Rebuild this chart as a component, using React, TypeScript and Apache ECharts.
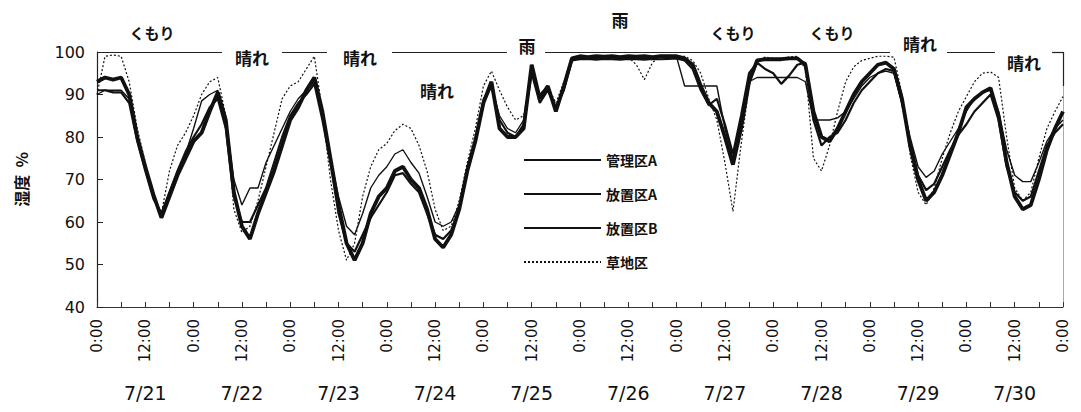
import { useEffect, useRef } from "react";
import * as echarts from "echarts";

// Relative humidity (%) every 2 hours, 7/21 0:00 through 7/31 0:00
const STEP_HOURS = 2;

const dayLabels = ["7/21", "7/22", "7/23", "7/24", "7/25", "7/26", "7/27", "7/28", "7/29", "7/30"];

const kanriA = [
  90, 91, 91, 91, 89, 80, 73, 66, 62, 67, 72, 76,
  82, 88.5, 90, 91, 84, 70, 64, 68, 68, 74, 78, 82,
  86, 89, 91, 93, 85, 75, 66, 59, 57, 62, 68, 71,
  73, 76, 77, 74, 71.5, 66, 60, 59, 60, 64, 73, 80,
  89, 92, 85, 82, 81, 84, 96, 90, 92, 87, 92, 98,
  98.5, 98.6, 98.5, 98.7, 98.6, 98.5, 98.6, 98.4, 98.5, 98.6, 98.7, 98.8,
  98.8, 92, 92, 92, 92, 92, 82, 75, 84, 93, 94, 94,
  94, 94, 94, 94, 93, 84, 84, 84, 84.5, 86, 89, 92,
  94, 95, 95.5, 95, 88, 80, 73, 70.5, 72, 76, 79, 82,
  86, 89, 90.5, 91, 86, 77, 71, 69.5, 69.5, 74, 79, 82,
  84,
];

const houchiA = [
  93, 94, 93.5, 94, 90, 80, 73, 66.5, 61, 66, 71, 75,
  79, 81, 86, 90.5, 84, 67, 59, 56, 62, 67, 72, 78,
  84, 87, 91, 94, 86, 75, 64, 55, 51, 55, 62, 66,
  68, 72, 73, 70, 68, 63, 56, 54, 57, 63, 72, 79,
  88, 93, 82, 80, 80, 82, 97, 89, 92, 86, 92, 98.5,
  99, 98.8, 99, 98.9, 99, 98.8, 99, 98.9, 99, 98.8, 99, 99,
  99, 98.5, 97, 92, 88, 86, 80, 73.5, 82, 93, 98, 98.3,
  98.3, 98.3, 98.5, 98.5, 97, 86, 80, 79, 82, 86, 90, 93,
  95, 97, 97.5, 96, 89, 78, 70, 65, 67, 71, 76, 81,
  87, 89, 90.5, 91.5, 85, 74, 66, 63, 64, 70, 77, 82,
  86,
];

const houchiB = [
  91, 91, 90.5, 90.5, 88, 79, 72, 65.5, 62, 67, 72, 76.5,
  80, 83, 87, 89, 82, 66, 60, 60, 64, 68, 74, 80,
  85, 88, 90, 92.5, 84, 74, 62, 55, 53, 57, 61, 64,
  67, 71, 71.5, 69, 67, 62, 57, 56, 58, 63, 72, 79,
  88, 92, 84, 81, 80, 83, 95, 88, 91, 87, 91, 98,
  98.3, 98.4, 98.2, 98.4, 98.3, 98.2, 98.4, 98.3, 98.2, 98.4, 98.3, 98.4,
  98.5, 98, 96, 91, 87.5, 89, 83, 76, 85, 95, 97.5, 96,
  95, 92.5, 94.5, 97, 97.5, 84, 78, 80, 81, 84, 88, 91,
  93, 95, 96, 95.5, 88, 79, 71, 67.5, 69, 73, 77, 80.5,
  83, 86, 88, 90, 84, 73, 67, 65, 66, 72, 78, 81,
  83,
];

const souchi = [
  90, 99, 99.3, 99, 93, 82, 74, 66, 62, 72, 78, 81,
  85, 90, 93, 94, 85, 63, 57.5, 59, 65, 73, 81, 89,
  92, 93, 96, 99, 86, 70, 58, 51, 55, 66, 73, 77,
  78.5, 81.5, 83, 82, 78, 72, 63, 58, 59, 65, 74, 82,
  92, 95.5, 91, 87, 84, 85, 96, 90, 92, 88, 93, 98.5,
  99, 99, 98.8, 99, 98.9, 99, 98.8, 97, 93.5, 97.5, 99, 99,
  99, 99, 98, 95, 89, 84, 74, 62.5, 78, 92, 98, 98.8,
  98.5, 98.5, 98.8, 99, 96, 75, 72, 78, 86, 93, 96.5, 98,
  98.5, 99, 99, 98.8, 90, 76, 67, 64, 68, 75, 81, 86,
  89.5, 93, 95, 95.3, 94, 80, 68, 65, 67, 75, 82, 86,
  89.5,
];

const seriesNames = ["管理区A", "放置区A", "放置区B", "草地区"];

const hours = kanriA.map((_, i) => i * STEP_HOURS);
const toPoints = (vals: number[]) => vals.map((v, i) => [hours[i], v]);

// Weather notes written along the top of the plot
const weatherNotes = [
  { text: "くもり", x: 152, y: 32, size: 15 },
  { text: "晴れ", x: 252, y: 57, size: 17 },
  { text: "晴れ", x: 360, y: 57, size: 17 },
  { text: "晴れ", x: 437, y: 90, size: 17 },
  { text: "雨", x: 527, y: 45, size: 17 },
  { text: "雨", x: 620, y: 19, size: 17 },
  { text: "くもり", x: 733, y: 32, size: 15 },
  { text: "くもり", x: 832, y: 32, size: 15 },
  { text: "晴れ", x: 920, y: 43, size: 17 },
  { text: "晴れ", x: 1024, y: 62, size: 17 },
];

// Pieces of the top frame line, broken where the notes sit
const topFrame = [
  [97, 222],
  [282, 327],
  [392, 507],
  [545, 890],
  [947, 995],
  [1052, 1063],
];

const JP = '"Noto Sans CJK JP", "Noto Sans", sans-serif';
const NUM = '"DejaVu Sans", sans-serif';
const INK = "#111";

export default function App() {
  const ref = useRef<HTMLDivElement>(null);

  useEffect(() => {
    if (!ref.current) return;
    const chart = echarts.init(ref.current, undefined, { renderer: "svg" });

    const graphics: any[] = [];
    topFrame.forEach(([a, b]) =>
      graphics.push({
        type: "line",
        shape: { x1: a, y1: 52.5, x2: b, y2: 52.5 },
        style: { stroke: "#222", lineWidth: 1.2 },
        silent: true,
      })
    );
    graphics.push({
      type: "line",
      shape: { x1: 1063.5, y1: 52, x2: 1063.5, y2: 307 },
      style: { stroke: "#aaa", lineWidth: 1 },
      silent: true,
    });
    graphics.push({
      type: "line",
      shape: { x1: 1063.5, y1: 52, x2: 1063.5, y2: 86 },
      style: { stroke: "#222", lineWidth: 1.2 },
      silent: true,
    });
    weatherNotes.forEach((n) =>
      graphics.push({
        type: "text",
        x: n.x,
        y: n.y,
        silent: true,
        style: {
          text: n.text,
          fill: INK,
          fontFamily: JP,
          fontWeight: "bold",
          fontSize: n.size,
          align: "center",
          verticalAlign: "middle",
        },
      })
    );

    const lineDefs = [
      { name: "草地区", data: souchi, width: 1.2, type: [2, 2] as any },
      { name: "放置区A", data: houchiA, width: 3.8, type: "solid" },
      { name: "放置区B", data: houchiB, width: 2.2, type: "solid" },
      { name: "管理区A", data: kanriA, width: 1.4, type: "solid" },
    ];

    chart.setOption({
      animation: false,
      backgroundColor: "#fff",
      grid: { left: 97, right: 18, top: 52, bottom: 105, containLabel: false },
      legend: {
        data: seriesNames,
        orient: "vertical",
        left: 518,
        top: 148,
        itemWidth: 77,
        itemHeight: 14,
        itemGap: 20,
        selectedMode: false,
        itemStyle: { opacity: 0 },
        textStyle: { color: INK, fontFamily: JP, fontWeight: "bold", fontSize: 14 },
      },
      xAxis: [
        {
          type: "value",
          min: 0,
          max: 240,
          interval: 12,
          axisLine: { show: true, lineStyle: { color: "#333", width: 1 } },
          axisTick: { show: true, inside: true, length: 5, lineStyle: { color: "#333" } },
          minorTick: { show: true, splitNumber: 2, length: 5, lineStyle: { color: "#333" } },
          splitLine: { show: false },
          axisLabel: {
            rotate: 90,
            margin: 12,
            color: INK,
            fontFamily: NUM,
            fontSize: 15,
            formatter: (v: number) => (v % 24 === 0 ? "0:00" : "12:00"),
          },
        },
        {
          type: "category",
          data: dayLabels,
          position: "bottom",
          offset: 76,
          boundaryGap: true,
          axisLine: { show: false },
          axisTick: { show: false },
          axisLabel: { margin: 0, color: INK, fontFamily: NUM, fontSize: 19 },
        },
      ],
      yAxis: {
        type: "value",
        min: 40,
        max: 100,
        interval: 10,
        name: "湿度  %",
        nameLocation: "middle",
        nameRotate: 90,
        nameGap: 68,
        nameTextStyle: { color: INK, fontFamily: JP, fontWeight: "bold", fontSize: 16 },
        axisLine: { show: true, lineStyle: { color: "#222", width: 1.2 } },
        axisTick: { show: true, inside: true, length: 6, lineStyle: { color: "#222" } },
        splitLine: { show: false },
        axisLabel: { margin: 12, color: INK, fontFamily: NUM, fontSize: 16 },
      },
      series: lineDefs.map((d) => ({
        name: d.name,
        type: "line",
        xAxisIndex: 0,
        data: toPoints(d.data),
        symbol: "none",
        showSymbol: false,
        lineStyle: { color: INK, width: d.width, type: d.type },
        itemStyle: { color: INK },
      })),
      graphic: graphics,
    });

    return () => chart.dispose();
  }, []);

  return (
    <div
      ref={ref}
      style={{ position: "absolute", left: 0, top: 0, width: 1081, height: 412, background: "#fff" }}
    />
  );
}
